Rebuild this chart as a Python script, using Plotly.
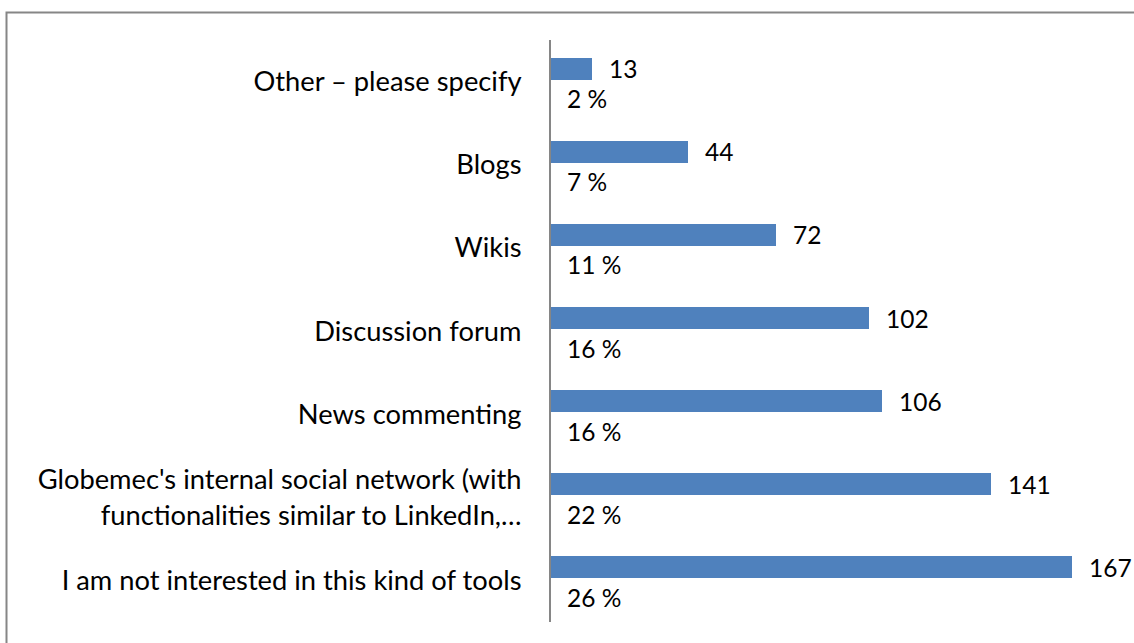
import plotly.graph_objects as go

# Survey responses: which collaboration tools respondents would use
categories = [
    "Other – please specify",
    "Blogs",
    "Wikis",
    "Discussion forum",
    "News commenting",
    "Globemec's internal social network (with<br>functionalities similar to LinkedIn,…",
    "I am not interested in this kind of tools",
]
counts = [13, 44, 72, 102, 106, 141, 167]
percents = [2, 7, 11, 16, 16, 22, 26]

BAR_COLOR = "#4F81BD"
GRID_GRAY = "#868686"
FAMILY = "Lato, 'Open Sans', sans-serif"
FONT = dict(family=FAMILY, size=24.5, color="#000000")
TICK_FONT = dict(family=FAMILY, size=27.3, color="#000000")

positions = list(range(len(categories)))
bar_offset = -0.156   # bars sit in the upper half of each category band
pct_offset = 0.205    # percentage labels sit below the bar

fig = go.Figure()
fig.add_trace(go.Bar(
    x=counts,
    y=[p + bar_offset for p in positions],
    orientation="h",
    width=0.265,
    marker=dict(color=BAR_COLOR, line=dict(width=0)),
    hoverinfo="skip",
    showlegend=False,
))

annotations = []
for p, c, pc in zip(positions, counts, percents):
    annotations.append(dict(
        x=c, y=p + bar_offset, xref="x", yref="y",
        text=str(c), showarrow=False, xanchor="left", yanchor="middle",
        xshift=15, font=FONT,
    ))
    annotations.append(dict(
        x=0, y=p + pct_offset, xref="x", yref="y",
        text=f"{pc} %", showarrow=False, xanchor="left", yanchor="middle",
        xshift=14, font=FONT,
    ))

# outer chart frame (right and bottom edges run off the page)
L, R, T, B = 551, 21, 40, 21
W, H = 1134, 643
pw, ph = W - L - R, H - T - B
fig.add_shape(
    type="rect", xref="paper", yref="paper",
    x0=(6.5 - L) / pw, x1=(W + 10 - L) / pw,
    y0=-(H + 10 - (H - B)) / ph, y1=((H - B) - 12.5) / ph,
    line=dict(color=GRID_GRAY, width=2), fillcolor="rgba(0,0,0,0)",
    layer="below",
)

fig.update_layout(
    width=W, height=H,
    margin=dict(l=L, r=R, t=T, b=B, pad=0),
    paper_bgcolor="white", plot_bgcolor="white",
    font=FONT,
    annotations=annotations,
    bargap=0,
    xaxis=dict(range=[0, 180], visible=False, fixedrange=True),
    yaxis=dict(
        range=[len(categories) - 0.5, -0.5],
        tickmode="array", tickvals=positions, ticktext=categories,
        showline=True, linecolor=GRID_GRAY, linewidth=2,
        showgrid=False, zeroline=False, ticks="",
        ticklabelstandoff=22,
        tickfont=TICK_FONT,
    ),
)

fig.write_html("out.html")
